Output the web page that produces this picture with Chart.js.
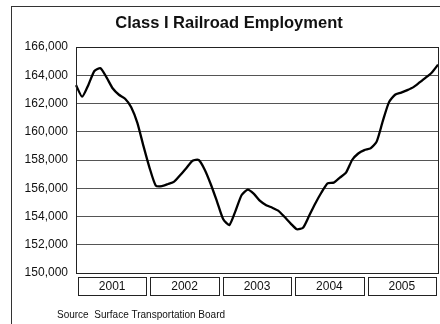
<!DOCTYPE html>
<html lang="en">
<head>
  <meta charset="UTF-8">
  <title>Class I Railroad Employment</title>
  <script src="https://cdn.jsdelivr.net/npm/chart.js"></script>
  <style>
    body { margin: 0; background: #fff; }
  </style>
</head>
<body>
  <canvas id="railChart" width="440" height="324"></canvas>

  <script>
    // monthly employment, Jan 2001 - Dec 2005
    const years = ['2001', '2002', '2003', '2004', '2005'];
    const employment = [
      163300, 162480, 163300, 164300, 164500, 163830, 163060, 162620, 162340, 161740, 160630, 158980,
      157430, 156190, 156150, 156300, 156470, 156940, 157440, 157950, 158000, 157300, 156250, 155040,
      153800, 153400, 154400, 155520, 155900, 155600, 155100, 154800, 154620, 154400, 153960, 153500,
      153100, 153200, 154050, 154920, 155700, 156350, 156400, 156750, 157100, 158000, 158460, 158700,
      158820, 159300, 160750, 162080, 162620, 162770, 162950, 163160, 163490, 163830, 164200, 164750
    ];
    const yMin = 150000;
    const yMax = 166000;
    const yStep = 2000;
    const chartTitle = 'Class I Railroad Employment';
    const sourceNote = 'Source  Surface Transportation Board';

    const months = employment.map((v, i) => years[Math.floor(i / 12)] + '-' + (i % 12 + 1));
    const FONT = '"Liberation Sans", Arial, sans-serif';

    // frame, title, plot box, year boxes and source line
    const decorations = {
      id: 'decorations',
      beforeDraw(chart) {
        const c = chart.ctx;
        c.save();
        c.fillStyle = '#fff';
        c.fillRect(0, 0, chart.width, chart.height);
        c.strokeStyle = '#333';
        c.lineWidth = 1;
        c.strokeRect(11.5, 6.5, chart.width, chart.height);
        c.font = 'bold 16.5px ' + FONT;
        c.fillStyle = '#111';
        c.textAlign = 'center';
        c.textBaseline = 'alphabetic';
        c.fillText(chartTitle, 229, 28);
        c.restore();
      },
      afterDraw(chart) {
        const c = chart.ctx;
        const area = chart.chartArea;
        const ys = chart.scales.years;
        c.save();
        c.strokeStyle = '#222';
        c.lineWidth = 1;
        c.strokeRect(Math.round(area.left) + 0.5, Math.round(area.top) + 0.5,
          Math.round(area.right - area.left), Math.round(area.bottom - area.top));

        const w = (area.right - area.left) / years.length;
        c.font = '12px ' + FONT;
        c.fillStyle = '#111';
        c.textAlign = 'center';
        c.textBaseline = 'middle';
        years.forEach((yr, i) => {
          const mid = ys.getPixelForValue(i);
          const x0 = Math.round(mid - w / 2 + 2) + 0.5;
          const x1 = Math.round(mid + w / 2 - 2) + 0.5;
          c.strokeRect(x0, area.bottom + 4.5, x1 - x0, 18);
          c.fillText(yr, mid, area.bottom + 14);
        });

        c.font = '10px ' + FONT;
        c.textAlign = 'left';
        c.fillText(sourceNote, 57, 315);
        c.restore();
      }
    };

    const ctx = document.getElementById('railChart').getContext('2d');
    const railChart = new Chart(ctx, {
      type: 'line',
      data: {
        labels: months,
        datasets: [{
          label: 'Employment',
          data: employment,
          borderColor: '#000',
          borderWidth: 2.3,
          pointRadius: 0,
          tension: 0.2,
          fill: false
        }]
      },
      options: {
        responsive: false,
        animation: false,
        layout: { padding: { left: 0, right: 2, top: 47, bottom: 51 } },
        scales: {
          x: {
            display: false
          },
          years: {
            type: 'category',
            labels: years,
            offset: true,
            display: false,
            position: 'bottom'
          },
          y: {
            min: yMin,
            max: yMax,
            afterFit(scale) { scale.width = 76; },
            ticks: {
              stepSize: yStep,
              padding: 8,
              color: '#111',
              font: { size: 12, family: FONT }
            },
            grid: {
              color: '#555',
              lineWidth: 1,
              drawTicks: false
            },
            border: { display: true, color: '#222' }
          }
        },
        plugins: {
          legend: { display: false },
          tooltip: { enabled: false },
          title: { display: false }
        }
      },
      plugins: [decorations]
    });
  </script>
</body>
</html>
